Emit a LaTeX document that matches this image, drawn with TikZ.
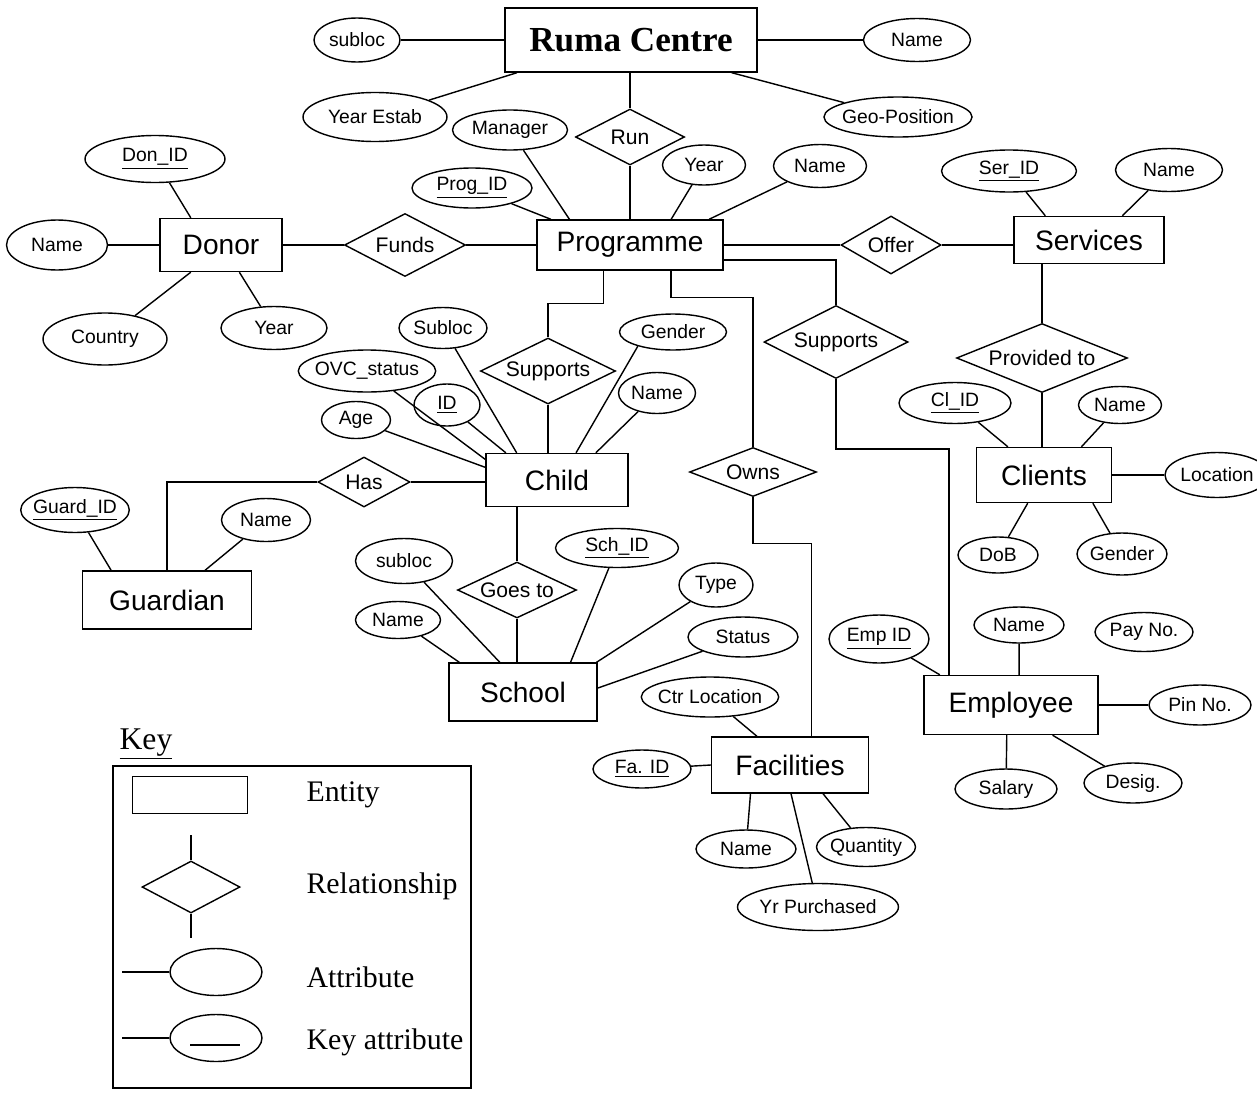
\documentclass[tikz,border=0pt]{standalone}
\usepackage{fontspec}
\setmainfont{Liberation Serif}
\setsansfont{Liberation Sans}
\usetikzlibrary{shapes.geometric}

\tikzset{
  wh/.style 2 args={minimum width=#1cm, minimum height=#2cm},
  entity/.style={draw, rectangle, inner sep=0pt, font=\sffamily\fontsize{16}{18}\selectfont},
  attr/.style={draw, ellipse, inner sep=-2pt, font=\sffamily\fontsize{11}{13}\selectfont},
  rel/.style={draw, diamond, aspect=2, inner sep=0pt, font=\sffamily\fontsize{12}{14}\selectfont},
  keytext/.style={anchor=west, font=\rmfamily\fontsize{17}{20}\selectfont}
}

\begin{document}
\begin{tikzpicture}[x=0.02cm, y=-0.02cm, line width=0.8pt]
\path[use as bounding box, fill=white] (0,0) rectangle (1257,1092);

% Ruma Centre
\node[entity, wh={5.04}{1.28}, font=\rmfamily\bfseries\fontsize{20}{24}\selectfont] (ruma) at (631,40) {Ruma Centre};
\node[attr, wh={1.72}{0.88}] (rsub) at (357,40) {subloc};
\node[attr, wh={2.14}{0.86}] (rname) at (917,40) {Name};
\node[attr, wh={2.88}{0.98}] (yest) at (375,117) {Year Estab};
\node[attr, wh={2.88}{0.8}] (geo) at (898,117) {Geo-Position};
\node[rel, wh={2.18}{1.12}] (run) at (630,137) {Run};

% Programme
\node[entity, wh={3.72}{1.0}] (prog) at (630,245) {Programme};
\node[attr, wh={2.3}{0.8}] (manager) at (510,130) {Manager};
\node[attr, wh={2.4}{0.8}] (progid) at (472,188) {\underline{Prog\_ID}};
\node[attr, wh={1.66}{0.8}] (pyear) at (704,165) {Year};
\node[attr, wh={1.86}{0.86}] (pname) at (820,166) {Name};

% Donor
\node[entity, wh={2.44}{1.06}] (donor) at (221,245) {Donor};
\node[attr, wh={2.8}{0.94}] (donid) at (155,159) {\underline{Don\_ID}};
\node[attr, wh={2.02}{1.0}] (dname) at (57,245) {Name};
\node[attr, wh={2.48}{1.04}] (country) at (105,339) {Country};
\node[attr, wh={2.12}{0.86}] (dyear) at (274,328) {Year};
\node[rel, wh={2.42}{1.26}] (funds) at (405,245) {Funds};

% Services and Clients
\node[entity, wh={3.0}{0.94}] (serv) at (1089,240) {Services};
\node[attr, wh={2.7}{0.84}] (serid) at (1009,171) {\underline{Ser\_ID}};
\node[attr, wh={2.14}{0.86}] (sname) at (1169,170) {Name};
\node[rel, wh={2.0}{1.16}] (offer) at (891,245) {Offer};
\node[rel, aspect=3, wh={3.42}{1.38}] (prov) at (1042,358) {Provided to};
\node[entity, wh={2.7}{1.1}] (clients) at (1044,475) {Clients};
\node[attr, wh={2.24}{0.82}] (clid) at (955,403) {\underline{Cl\_ID}};
\node[attr, wh={1.66}{0.74}] (cname) at (1120,405) {Name};
\node[attr, wh={2.08}{0.9}] (cloc) at (1217,475) {Location};
\node[attr, wh={1.6}{0.72}] (dob) at (998,555) {DoB};
\node[attr, wh={1.8}{0.84}] (cgender) at (1122,554) {Gender};

\node[rel, wh={2.88}{1.46}] (supr) at (836,342) {Supports};
\node[rel, aspect=2.5, wh={2.54}{0.98}] (owns) at (753,472) {Owns};

% Child
\node[rel, aspect=2.2, wh={2.7}{1.32}] (supl) at (548,371) {Supports};
\node[entity, wh={2.84}{1.06}] (child) at (557,480) {Child};
\node[attr, wh={1.76}{0.82}] (chsub) at (443,328) {Subloc};
\node[attr, wh={2.72}{0.84}] (ovc) at (367,371) {OVC\_status};
\node[attr, wh={1.32}{0.84}] (chid) at (447,405) {\underline{ID}};
\node[attr, wh={1.38}{0.74}] (age) at (356,420) {Age};
\node[attr, wh={2.14}{0.72}] (chgender) at (673,332) {Gender};
\node[attr, wh={1.54}{0.82}] (chname) at (657,393) {Name};
\node[rel, wh={1.84}{1.0}] (has) at (364,482) {Has};

% Guardian
\node[entity, wh={3.38}{1.16}] (guard) at (167,600) {Guardian};
\node[attr, wh={2.16}{0.9}] (guardid) at (75,510) {\underline{Guard\_ID}};
\node[attr, wh={1.78}{0.86}] (gname) at (266,520) {Name};

% School
\node[rel, aspect=2.2, wh={2.38}{1.12}] (goes) at (517,590) {Goes to};
\node[entity, wh={2.96}{1.16}] (school) at (523,692) {School};
\node[attr, wh={1.94}{0.9}] (ssub) at (404,561) {subloc};
\node[attr, wh={1.7}{0.74}] (schname) at (398,620) {Name};
\node[attr, wh={2.46}{0.78}] (schid) at (617,548) {\underline{Sch\_ID}};
\node[attr, wh={1.48}{0.88}] (stype) at (716,585) {Type};
\node[attr, wh={2.2}{0.8}] (status) at (743,637) {Status};

% Facilities
\node[entity, wh={3.14}{1.12}] (fac) at (790,765) {Facilities};
\node[attr, wh={2.72}{0.8}] (ctrloc) at (710,697) {Ctr Location};
\node[attr, wh={1.96}{0.76}] (faid) at (642,769) {\underline{Fa. ID}};
\node[attr, wh={2.0}{0.76}] (fname) at (746,849) {Name};
\node[attr, wh={1.98}{0.78}] (qty) at (866,847) {Quantity};
\node[attr, wh={3.22}{0.94}] (yrpur) at (818,907) {Yr Purchased};

% Employee
\node[entity, wh={3.48}{1.18}] (emp) at (1011,705) {Employee};
\node[attr, wh={2.0}{0.96}] (empid) at (879,639) {\underline{Emp ID}};
\node[attr, wh={1.8}{0.72}] (ename) at (1019,625) {Name};
\node[attr, wh={1.96}{0.78}] (payno) at (1144,632) {Pay No.};
\node[attr, wh={2.04}{0.8}] (pinno) at (1200,705) {Pin No.};
\node[attr, wh={2.04}{0.8}] (salary) at (1006,789) {Salary};
\node[attr, wh={1.96}{0.8}] (desig) at (1133,783) {Desig.};

% attributes to their entity
\foreach \a/\e in {rsub/ruma.west, rname/ruma.east, yest/ruma.196, geo/ruma.342,
  manager/prog.157, progid/prog.162, pyear/prog.32, pname/prog.18,
  donid/donor.138, dname/donor.west, country/donor.222, dyear/donor.304,
  serid/serv.151, sname/serv.36,
  clid/clients.142, cname/clients.37, cloc/clients.east, dob/clients.240, cgender/clients.330,
  chsub/child.146, ovc/child.164, chid/child.152, age/child.170, chgender.202/child.55, chname/child.35,
  guardid/guard.152, gname/guard.38,
  ssub/school.128, schname/school.155, schid/school.32, stype/school.22, status/school.3,
  ctrloc/fac.139, faid/fac.west, fname/fac.216, yrpur/fac.272, qty/fac.319,
  empid/emp.157, ename/emp.75, pinno/emp.east, salary/emp.262, desig/emp.324}
  \draw (\a) -- (\e);

% relationships
\draw (run.north |- ruma.south) -- (run.north);
\draw (run.south) -- (prog.north);
\draw (donor.east) -- (funds.west);
\draw (funds.east) -- (prog.west);
\draw (prog.east) -- (offer.west);
\draw (offer.east) -- (offer.east -| serv.west);
\draw (prov.north |- serv.south) -- (prov.north);
\draw (prov.south) -- (prov.south |- clients.north);
\draw (prog.351) -| (supr.north);
\draw (supr.south) -- ++(0,70) -| (emp.154);
\draw (prog.328) -- ++(0,27) -| (owns.north);
\draw (owns.south) -- ++(0,46) -| (fac.53);
\draw (prog.224) -- ++(0,33) -| (supl.north);
\draw (supl.south) -- (supl.south |- child.north);
\draw (has.east) -- (has.east -| child.west);
\draw (has.west) -| (guard.north);
\draw (goes.north |- child.south) -- (goes.north);
\draw (goes.south) -- (goes.south |- school.north);

% Key
\node[font=\rmfamily\fontsize{18}{22}\selectfont] (keytitle) at (146,744) {\underline{Key}};
\draw (113,766) rectangle (471,1088);
\node[draw, rectangle, wh={2.3}{0.74}] (kent) at (190,795) {};
\node[keytext] (tent) at (300,795) {Entity};
\node[draw, diamond, inner sep=0pt, wh={1.96}{1.04}] (krel) at (191,887) {};
\draw (krel.north) -- ++(0,-25);
\draw (krel.south) -- ++(0,24);
\node[keytext] (trel) at (300,886) {Relationship};
\node[draw, ellipse, wh={1.84}{0.94}] (kattr) at (216,972) {};
\draw (kattr.west) -- ++(-47,0);
\node[keytext] (tattr) at (300,977) {Attribute};
\node[draw, ellipse, wh={1.84}{0.94}] (kkey) at (216,1038) {};
\draw (kkey.west) -- ++(-47,0);
\draw ([shift={(-26,7)}]kkey.center) -- ++(50,0);
\node[keytext] (tkey) at (300,1042) {Key attribute};
\end{tikzpicture}
\end{document}
